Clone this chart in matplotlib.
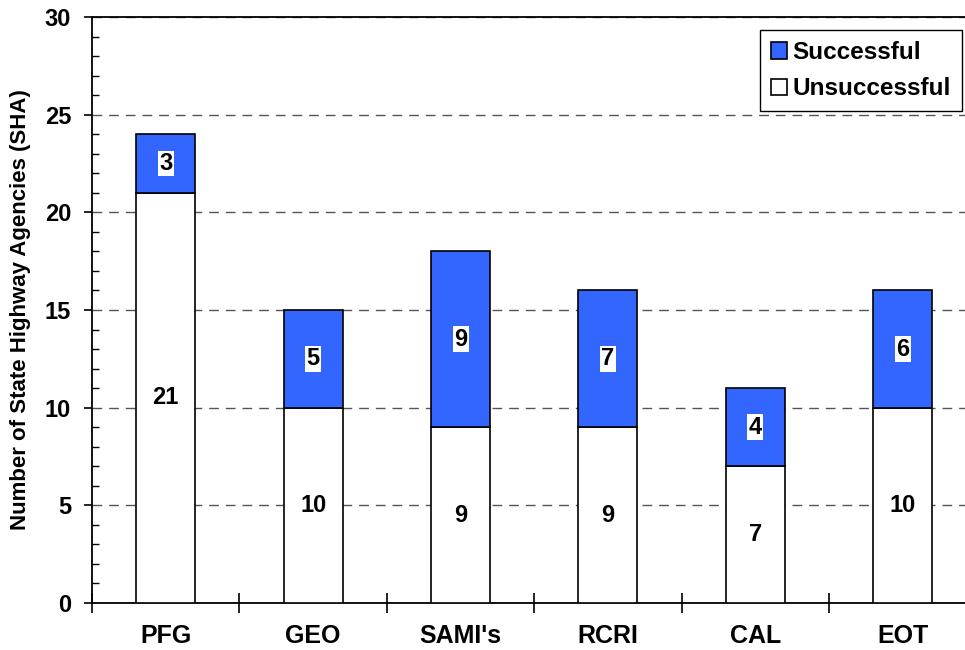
import numpy as np
import matplotlib.pyplot as plt
from matplotlib.ticker import MultipleLocator, FixedLocator, NullFormatter

categories = ['PFG', 'GEO', "SAMI's", 'RCRI', 'CAL', 'EOT']
unsuccessful = [21, 10, 9, 9, 7, 10]
successful = [3, 5, 9, 7, 4, 6]

plt.rcParams['font.family'] = ['Liberation Sans', 'DejaVu Sans']
plt.rcParams['font.weight'] = 'bold'

fig = plt.figure(figsize=(9.65, 6.5), dpi=100)
ax = fig.add_axes([92 / 965, 47 / 650, (976.5 - 92) / 965, 586 / 650])

x = np.arange(len(categories))
blue = '#3366FF'
ax.bar(x, unsuccessful, width=0.4, color='white', edgecolor='black', linewidth=1.2,
       label='Unsuccessful', zorder=3)
ax.bar(x, successful, width=0.4, bottom=unsuccessful, color=blue, edgecolor='black',
       linewidth=1.2, label='Successful', zorder=3)

for xi, u, s in zip(x, unsuccessful, successful):
    ax.text(xi, u / 2, str(u), ha='center', va='center', fontsize=17, fontweight='bold', zorder=4)
    ax.text(xi, u + s / 2, str(s), ha='center', va='center', fontsize=17, fontweight='bold',
            zorder=4, bbox=dict(facecolor='white', edgecolor='none', pad=1.0))

ax.set_xlim(-0.5, len(categories) - 0.5)
ax.set_ylim(0, 30)

# y axis: major outward, minor inward
ax.yaxis.set_major_locator(MultipleLocator(5))
ax.yaxis.set_minor_locator(MultipleLocator(1))
ax.tick_params(axis='y', which='major', direction='out', length=6, width=1.2,
               labelsize=17, pad=9)
ax.tick_params(axis='y', which='minor', direction='in', length=5, width=1.0)
for lab in ax.get_yticklabels():
    lab.set_fontweight('bold')

# x axis: separator ticks at boundaries, names at centers
ax.xaxis.set_major_locator(FixedLocator(np.arange(-0.5, len(categories), 1.0)))
ax.xaxis.set_major_formatter(NullFormatter())
ax.xaxis.set_minor_locator(FixedLocator(x))
ax.set_xticklabels(categories, minor=True, fontsize=18, fontweight='bold')
ax.tick_params(axis='x', which='major', direction='inout', length=14, width=1.2)
ax.tick_params(axis='x', which='minor', length=0, pad=15)

ax.set_ylabel('Number of State Highway Agencies (SHA)', fontsize=16, fontweight='bold', labelpad=10)

ax.grid(axis='y', which='major', linestyle=(0, (7, 5)), color='#555555', linewidth=1.0, zorder=0)

ax.spines['right'].set_visible(False)
for sp in ['left', 'bottom', 'top']:
    ax.spines[sp].set_linewidth(1.3)

handles, labels = ax.get_legend_handles_labels()
leg = ax.legend(handles[::-1], labels[::-1], loc='upper right',
                bbox_to_anchor=(962 / 965, 1 - 30 / 650), bbox_transform=fig.transFigure,
                prop={'weight': 'bold', 'size': 17.5}, borderaxespad=0,
                fancybox=False, edgecolor='black', framealpha=1, handlelength=0.65,
                handleheight=0.65, handletextpad=0.25, borderpad=0.45, labelspacing=0.55)
leg.get_frame().set_linewidth(1.0)

fig.savefig('out.png', dpi=100)
